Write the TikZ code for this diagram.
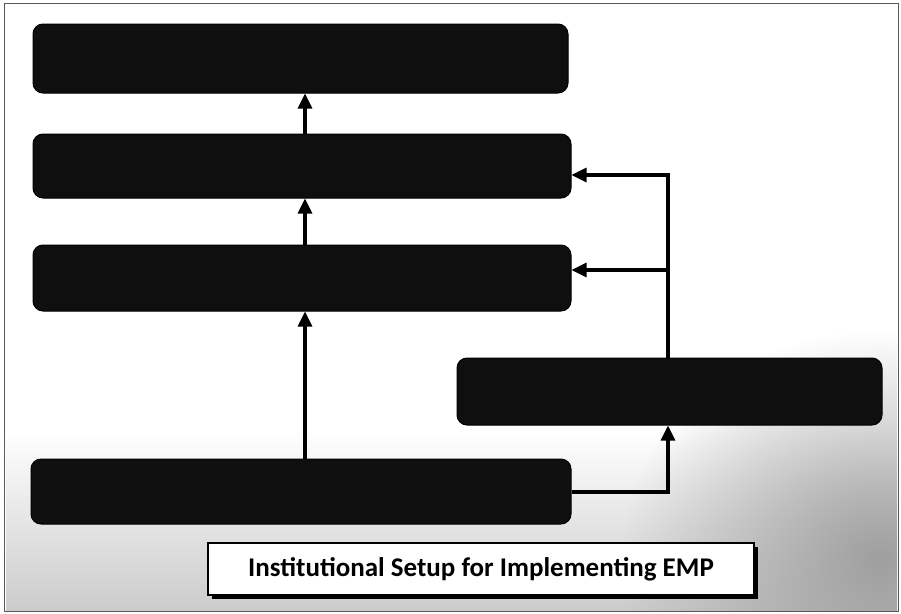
\documentclass[tikz,border=0pt]{standalone}
\usepackage{fontspec}
\setmainfont{Carlito}
\usetikzlibrary{arrows.meta,fadings}
\tikzfading[name=softspot, inner color=transparent!0, outer color=transparent!100]
\begin{document}
\begin{tikzpicture}[x=1pt,y=-1pt,
  blockbox/.style={draw=black, fill=black!94, rounded corners=10pt, line width=1pt,
    inner sep=0pt, anchor=center},
  arr/.style={line width=3.2pt, -{Triangle[length=15pt,width=14pt]}},
  caption/.style={draw=black, line width=1.6pt, fill=white, inner sep=0pt,
    minimum width=546pt, minimum height=52pt,
    font=\bfseries\fontsize{27}{31}\selectfont}
]
\useasboundingbox (0,0) rectangle (901,613);

% grainy grey ground along the lower part of the sheet
\begin{scope}
  \clip (5,4) rectangle (897,610);
  \shade[top color=white, bottom color=gray!40] (6,430) rectangle (897,610);
  \fill[gray!75, path fading=softspot]
    (880,560) ellipse [x radius=260, y radius=230];
\end{scope}

% outer frame
\draw[gray!70!black, line width=1pt] (4,3) rectangle (898,611);

% blocks of the set-up
\node[blockbox, minimum width=535pt, minimum height=69pt] (b1) at (300.5,58.5) {};
\node[blockbox, minimum width=538pt, minimum height=64pt] (b2) at (302,166) {};
\node[blockbox, minimum width=538pt, minimum height=66pt] (b3) at (302,278) {};
\node[blockbox, minimum width=425pt, minimum height=67pt] (b4) at (669.5,391.5) {};
\node[blockbox, minimum width=540pt, minimum height=65pt] (b5) at (301,491.5) {};

% routing points
\coordinate (cx) at (305,0);
\coordinate (j2) at (668,175);
\coordinate (j3) at (668,270);
\coordinate (j5) at (668,492);

% central chain
\draw[arr] (b2.north -| cx) -- (b1.south -| cx);
\draw[arr] (b3.north -| cx) -- (b2.south -| cx);
\draw[arr] (b5.north -| cx) -- (b3.south -| cx);

% right-hand feed
\draw[arr] (b4.north -| j3) -- (j3) -- (j3 -| b3.east);
\draw[arr] (j3) -- (j2) -- (j2 -| b2.east);
\draw[arr] (j5 -| b5.east) -- (j5) -- (b4.south -| j5);

% caption with drop shadow
\fill[black] (212,547) rectangle (758,599);
\node[caption] (cap) at (481,569) {Institutional Setup for Implementing EMP};
\end{tikzpicture}
\end{document}
